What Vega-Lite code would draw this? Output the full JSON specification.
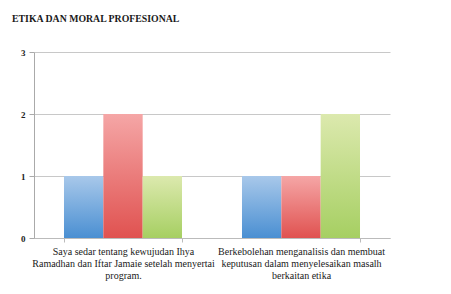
{
  "$schema": "https://vega.github.io/schema/vega-lite/v6.json",
  "width": 356,
  "height": 186,
  "autosize": {"type": "none"},
  "padding": {"left": 34, "top": 52, "right": 61, "bottom": 56},
  "background": "white",
  "title": {
    "text": "ETIKA DAN MORAL PROFESIONAL",
    "anchor": "start",
    "frame": "group",
    "dx": -22,
    "offset": 24,
    "font": "Liberation Serif",
    "fontSize": 9.8,
    "fontWeight": "bold",
    "color": "#1a1a1a"
  },
  "config": {"view": {"stroke": null}},
  "data": {
    "values": [
      {"cat": "Saya sedar tentang kewujudan Ihya|Ramadhan dan Iftar Jamaie setelah menyertai|program.", "series": "Siri 1", "value": 1},
      {"cat": "Saya sedar tentang kewujudan Ihya|Ramadhan dan Iftar Jamaie setelah menyertai|program.", "series": "Siri 2", "value": 2},
      {"cat": "Saya sedar tentang kewujudan Ihya|Ramadhan dan Iftar Jamaie setelah menyertai|program.", "series": "Siri 3", "value": 1},
      {"cat": "Berkebolehan menganalisis dan membuat|keputusan dalam menyelesaikan masalh|berkaitan etika", "series": "Siri 1", "value": 1},
      {"cat": "Berkebolehan menganalisis dan membuat|keputusan dalam menyelesaikan masalh|berkaitan etika", "series": "Siri 2", "value": 1},
      {"cat": "Berkebolehan menganalisis dan membuat|keputusan dalam menyelesaikan masalh|berkaitan etika", "series": "Siri 3", "value": 2}
    ]
  },
  "mark": {"type": "bar"},
  "encoding": {
    "x": {
      "field": "cat",
      "type": "nominal",
      "sort": null,
      "scale": {"paddingInner": 0.337, "paddingOuter": 0.1685},
      "axis": {
        "title": null,
        "labelAngle": 0,
        "labelExpr": "split(datum.label, '|')",
        "labelLineHeight": 12,
        "labelFont": "Liberation Serif",
        "labelFontSize": 10,
        "labelColor": "#1a1a1a",
        "labelLimit": 0,
        "labelPadding": 4,
        "domainColor": "#bbbbbb",
        "tickColor": "#bbbbbb",
        "tickSize": 4,
        "tickBand": "extent",
        "grid": false
      }
    },
    "xOffset": {"field": "series", "type": "nominal", "scale": {"paddingInner": 0, "paddingOuter": 0}},
    "y": {
      "field": "value",
      "type": "quantitative",
      "scale": {"domain": [0, 3], "nice": false},
      "axis": {
        "title": null,
        "values": [0, 1, 2, 3],
        "format": "d",
        "labelFont": "Liberation Serif",
        "labelFontSize": 9,
        "labelFontWeight": "bold",
        "labelColor": "#222",
        "labelPadding": 4,
        "domainColor": "#aaaaaa",
        "tickColor": "#aaaaaa",
        "tickSize": 5,
        "gridColor": "#c8c8c8"
      }
    },
    "fill": {
      "condition": [
        {"test": "datum.series === 'Siri 1'", "value": {"gradient": "linear", "x1": 0, "y1": 0, "x2": 0, "y2": 1, "stops": [{"offset": 0, "color": "#a8c8ea"}, {"offset": 1, "color": "#4a8fd2"}]}},
        {"test": "datum.series === 'Siri 2'", "value": {"gradient": "linear", "x1": 0, "y1": 0, "x2": 0, "y2": 1, "stops": [{"offset": 0, "color": "#f5a6a6"}, {"offset": 1, "color": "#e05250"}]}}
      ],
      "value": {"gradient": "linear", "x1": 0, "y1": 0, "x2": 0, "y2": 1, "stops": [{"offset": 0, "color": "#dce9ae"}, {"offset": 1, "color": "#a6cf62"}]}
    }
  }
}
